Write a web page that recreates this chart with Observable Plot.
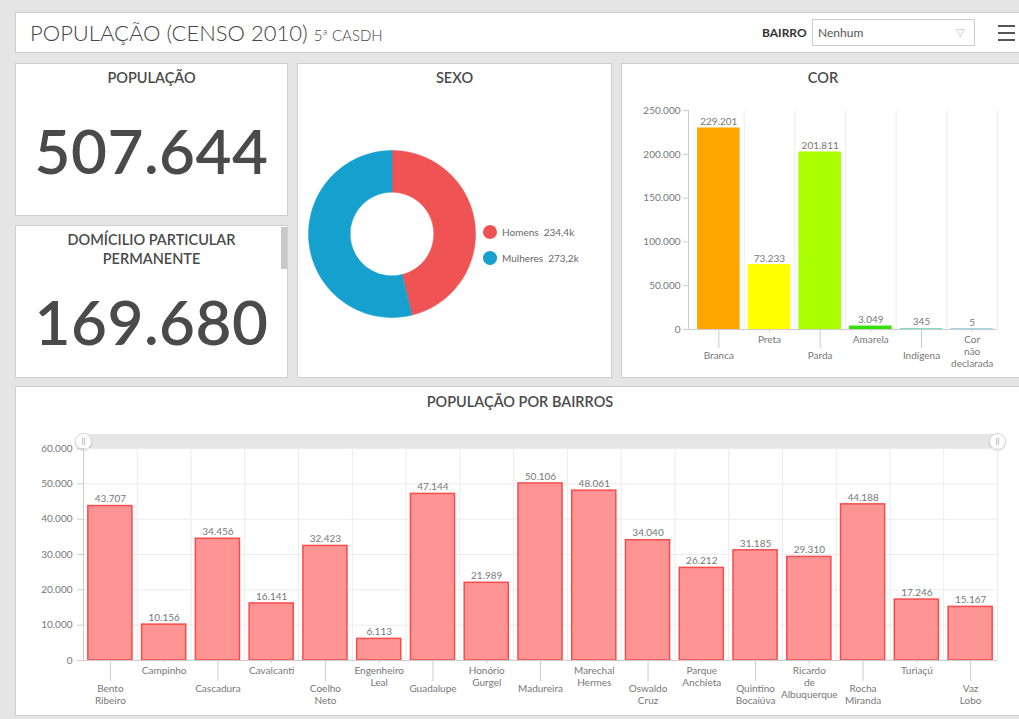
<!DOCTYPE html>
<html><head><meta charset="utf-8">
<script src="https://cdn.jsdelivr.net/npm/d3@7"></script>
<script src="https://cdn.jsdelivr.net/npm/@observablehq/plot@0.6"></script>
<style>
html,body{margin:0;padding:0;}
body{width:1019px;height:719px;background:#e5e5e5;position:relative;overflow:hidden;font-family:Lato,"Open Sans",sans-serif;color:#444;}
.panel{position:absolute;background:#fff;border:1px solid #cfcfcf;box-sizing:border-box;}
.ptitle{position:absolute;left:0;right:0;text-align:center;font-size:14.5px;font-weight:600;color:#4a4a4a;}
.big{position:absolute;left:0;right:0;text-align:center;font-size:62px;color:#4a4a4a;font-weight:600;letter-spacing:0.5px;}
.abs{position:absolute;}
.handle{position:absolute;width:17px;height:17px;border-radius:50%;background:#fff;border:1px solid #d8d8d8;box-sizing:border-box;font-size:8px;color:#999;text-align:center;line-height:15px;box-shadow:0 1px 2px rgba(0,0,0,0.15);}
svg{overflow:visible;}
</style></head>
<body>
<div class="panel" style="left:15px;top:12px;width:1010px;height:41px;">
  <div class="abs" style="left:14px;top:6px;font-size:22px;font-weight:300;color:#444;white-space:nowrap;">POPULAÇÃO (CENSO 2010) <span style="font-size:15px;">5ª CASDH</span></div>
  <div class="abs" style="left:746px;top:12px;font-size:12px;font-weight:700;color:#333;">BAIRRO</div>
  <div class="abs" style="left:796px;top:6px;width:163px;height:27px;border:1px solid #ccc;box-sizing:border-box;">
    <div class="abs" style="left:5px;top:5px;font-size:12px;color:#555;">Nenhum</div>
    <div class="abs" style="left:143px;top:5px;font-size:11px;color:#bbb;">▽</div>
  </div>
  <div class="abs" style="left:982px;top:12px;width:17px;height:2px;background:#555;"></div>
  <div class="abs" style="left:982px;top:19px;width:17px;height:2px;background:#555;"></div>
  <div class="abs" style="left:982px;top:26px;width:17px;height:2px;background:#555;"></div>
</div>

<div class="panel" style="left:15px;top:63px;width:273px;height:153px;">
  <div class="ptitle" style="top:5px;">POPULAÇÃO</div>
  <div class="big" id="bigPop" style="top:49px;"></div>
</div>
<div class="panel" style="left:15px;top:225px;width:273px;height:153px;">
  <div class="ptitle" style="top:4px;line-height:19px;">DOMÍCILIO PARTICULAR<br>PERMANENTE</div>
  <div class="abs" style="left:265px;top:1px;width:6px;height:42px;background:#c8c8c8;"></div>
  <div class="big" id="bigDom" style="top:58px;"></div>
</div>

<div class="panel" style="left:297px;top:63px;width:315px;height:315px;">
  <div class="ptitle" style="top:5px;">SEXO</div>
</div>
<div class="panel" style="left:621px;top:63px;width:404px;height:315px;">
  <div class="ptitle" style="top:5px;">COR</div>
</div>
<div class="panel" style="left:15px;top:386px;width:1010px;height:330px;">
  <div class="ptitle" style="top:6px;">POPULAÇÃO POR BAIRROS</div>
</div>
<div class="abs" style="left:83px;top:434px;width:914px;height:14px;background:#e6e6e6;"></div>
<div class="handle" style="left:75px;top:433px;">||</div>
<div class="handle" style="left:989px;top:433px;">||</div>

<div id="sexLegend" class="abs" style="left:483px;top:219px;font-size:10px;color:#666;"></div>

<div id="donut" class="abs" style="left:308px;top:150px;"></div>
<div id="cor" class="abs" style="left:621px;top:63px;"></div>
<div id="bairros" class="abs" style="left:15px;top:386px;"></div>

<script>
// ---- DATA ----
const populacaoTotal = 507644;
const domicilios = 169680;

const sexos = ["Homens", "Mulheres"];
const sexoValores = [234420, 273224];
const sexoCores = ["#ef5353", "#16a0cd"];

const cores = ["Branca", "Preta", "Parda", "Amarela", "Indígena", "Cor não declarada"];
const corValores = [229201, 73233, 201811, 3049, 345, 5];
const corCores = ["#ffa500", "#ffff00", "#aaff00", "#33e000", "#7fdcc8", "#86c8dc"];
const corTicks = [0, 50000, 100000, 150000, 200000, 250000];

const bairros = ["Bento Ribeiro", "Campinho", "Cascadura", "Cavalcanti", "Coelho Neto", "Engenheiro Leal",
  "Guadalupe", "Honório Gurgel", "Madureira", "Marechal Hermes", "Oswaldo Cruz", "Parque Anchieta",
  "Quintino Bocaiúva", "Ricardo de Albuquerque", "Rocha Miranda", "Turiaçú", "Vaz Lobo"];
const bairroValores = [43707, 10156, 34456, 16141, 32423, 6113, 47144, 21989, 50106, 48061, 34040,
  26212, 31185, 29310, 44188, 17246, 15167];
const bairroTicks = [0, 10000, 20000, 30000, 40000, 50000, 60000];
</script>
<script>
const loc = d3.formatLocale({decimal: ",", thousands: ".", grouping: [3], currency: ["R$", ""]});
const fmt = loc.format(",d");
const fmtK = v => (v / 1000).toFixed(1).replace(".", ",") + "k";
const multi = d => d.replace(/ /g, "\n");

document.getElementById("bigPop").textContent = fmt(populacaoTotal);
document.getElementById("bigDom").textContent = fmt(domicilios);

// legend
document.getElementById("sexLegend").innerHTML = sexos.map((s, i) =>
  `<div style="display:flex;align-items:center;height:26px;"><span style="display:inline-block;width:14px;height:14px;border-radius:50%;background:${sexoCores[i]};margin-right:5px;"></span>${s}&nbsp; ${fmtK(sexoValores[i])}</div>`
).join("");

// ---- Donut ----
{
  const total = d3.sum(sexoValores);
  const pts = [];
  let acc = 0;
  const rOut = 1, rIn = 0.5;
  sexos.forEach((s, i) => {
    const a0 = acc / total * 2 * Math.PI;
    acc += sexoValores[i];
    const a1 = acc / total * 2 * Math.PI;
    const n = 120;
    for (let k = 0; k <= n; k++) {
      const a = a0 + (a1 - a0) * k / n;
      pts.push({sexo: s, x: rOut * Math.sin(a), y: rOut * Math.cos(a)});
    }
    for (let k = n; k >= 0; k--) {
      const a = a0 + (a1 - a0) * k / n;
      pts.push({sexo: s, x: rIn * Math.sin(a), y: rIn * Math.cos(a)});
    }
  });
  const chart = Plot.plot({
    width: 167, height: 167, margin: 0,
    x: {domain: [-1, 1], axis: null},
    y: {domain: [-1, 1], axis: null},
    color: {domain: sexos, range: sexoCores},
    marks: [
      Plot.line(pts, {x: "x", y: "y", z: "sexo", fill: "sexo", stroke: "sexo", strokeWidth: 0.5, curve: "linear-closed"})
    ]
  });
  document.getElementById("donut").appendChild(chart);
}

// ---- COR ----
{
  const data = cores.map((c, i) => ({cor: c, v: corValores[i]}));
  const W = 398, H = 314, ml = 72, mr = 22, gap = 5;
  const step = (W - ml - mr) / cores.length;
  const chart = Plot.plot({
    width: W, height: H, marginLeft: ml, marginRight: mr, marginTop: 47, marginBottom: 48,
    style: {fontFamily: "Lato, 'Open Sans', sans-serif", fontSize: "10px", color: "#666", background: "transparent"},
    x: {domain: cores, paddingInner: 0.19, paddingOuter: 0.095, round: false, axis: null},
    y: {domain: [0, 250000], axis: null},
    color: {domain: cores, range: corCores},
    marks: [
      Plot.ruleY(corTicks.slice(1), {stroke: "#ececec", dx: 0, x1: null, insetLeft: -gap}),
      Plot.ruleX(cores, {x: d => d, dx: step / 2, stroke: "#ececec"}),
      Plot.barY(data, {x: "cor", y: "v", fill: "cor", stroke: "cor", strokeWidth: 1.5}),
      Plot.text(data, {x: "cor", y: "v", text: d => fmt(d.v), dy: -7, fill: "#777", fontSize: 10}),
      Plot.ruleY([0], {stroke: "#ccc", insetLeft: -gap}),
      Plot.ruleX([cores[0]], {dx: -step / 2 - gap, stroke: "#ccc"}),
      Plot.axisY(corTicks, {tickFormat: fmt, tickSize: 5, tickPadding: 3, dx: -gap, stroke: "#ccc", fill: "#777", label: null, fontSize: 10}),
      Plot.axisX(cores.filter((d, i) => i % 2 === 0), {tickFormat: multi, tickSize: 19, tickPadding: 2, stroke: "#ccc", fill: "#777", label: null, fontSize: 10, lineHeight: 1.2}),
      Plot.axisX(cores.filter((d, i) => i % 2 === 1), {tickFormat: multi, tickSize: 3, tickPadding: 2, stroke: "#ccc", fill: "#777", label: null, fontSize: 10, lineHeight: 1.2})
    ]
  });
  document.getElementById("cor").appendChild(chart);
}

// ---- BAIRROS ----
{
  const data = bairros.map((b, i) => ({bairro: b, v: bairroValores[i]}));
  const W = 1004, H = 329, ml = 68, mr = 22;
  const step = (W - ml - mr) / bairros.length;
  const chart = Plot.plot({
    width: W, height: H, marginLeft: ml, marginRight: mr, marginTop: 62, marginBottom: 55,
    style: {fontFamily: "Lato, 'Open Sans', sans-serif", fontSize: "10px", color: "#666", background: "transparent"},
    x: {domain: bairros, paddingInner: 0.18, paddingOuter: 0.09, round: false, axis: null},
    y: {domain: [0, 60000], axis: null},
    marks: [
      Plot.gridY(bairroTicks.slice(1), {stroke: "#ececec", strokeOpacity: 1}),
      Plot.ruleX(bairros, {x: d => d, dx: step / 2, stroke: "#ececec"}),
      Plot.barY(data, {x: "bairro", y: "v", fill: "#ff9494", stroke: "#f64c4c", strokeWidth: 1.5}),
      Plot.text(data, {x: "bairro", y: "v", text: d => fmt(d.v), dy: -7, fill: "#777", fontSize: 10}),
      Plot.ruleY([0], {stroke: "#ccc"}),
      Plot.ruleX([bairros[0]], {dx: -step / 2, stroke: "#ccc"}),
      Plot.axisY(bairroTicks, {tickFormat: fmt, tickSize: 6, tickPadding: 5, stroke: "#ccc", fill: "#777", label: null, fontSize: 10}),
      Plot.axisX(bairros.filter((d, i) => i % 2 === 0), {tickFormat: multi, tickSize: 21, tickPadding: 2, stroke: "#ccc", fill: "#777", label: null, fontSize: 10, lineHeight: 1.2}),
      Plot.axisX(bairros.filter((d, i) => i % 2 === 1), {tickFormat: multi, tickSize: 3, tickPadding: 2, stroke: "#ccc", fill: "#777", label: null, fontSize: 10, lineHeight: 1.2})
    ]
  });
  document.getElementById("bairros").appendChild(chart);
}
</script>
</body></html>
